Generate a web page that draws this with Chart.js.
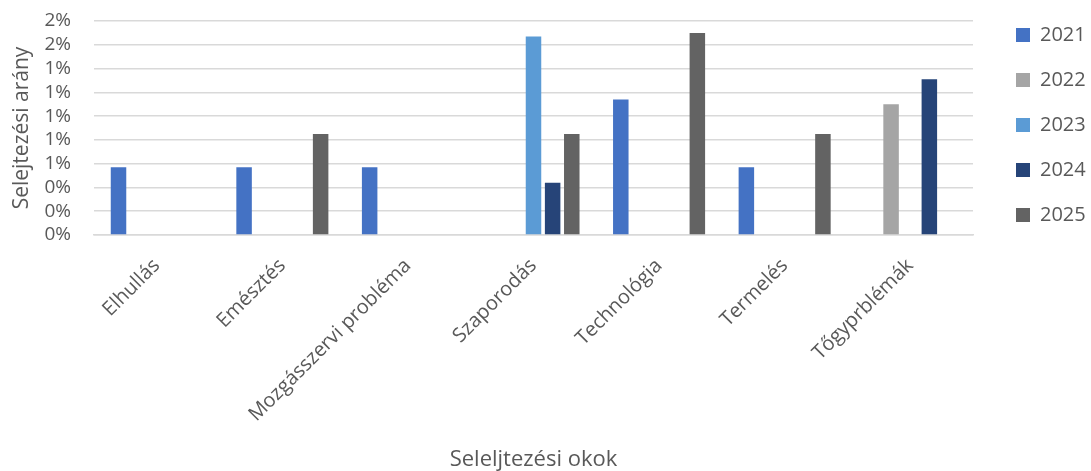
<!DOCTYPE html>
<html>
<head>
<meta charset="utf-8">
<script src="https://cdn.jsdelivr.net/npm/chart.js@4/dist/chart.umd.min.js"></script>
<style>
  html, body { margin: 0; padding: 0; background: #ffffff; }
  #wrap { width: 1091px; height: 471px; position: relative; }
</style>
</head>
<body>
<div id="wrap"><canvas id="c" width="1091" height="471"></canvas></div>
<script>
const categories = ["Elhullás", "Emésztés", "Mozgásszervi probléma", "Szaporodás", "Technológia", "Termelés", "Tőgyprblémák"];
const seriesNames = ["2021", "2022", "2023", "2024", "2025"];
const s2021 = [0.0057, 0.0057, 0.0057, null, 0.0114, 0.0057, null];
const s2022 = [null, null, null, null, null, null, 0.0110];
const s2023 = [null, null, null, 0.0167, null, null, null];
const s2024 = [null, null, null, 0.0044, null, null, 0.0131];
const s2025 = [null, 0.0085, null, 0.0085, 0.0170, 0.0085, null];
const seriesColors = ["#4472C4", "#A5A5A5", "#5B9BD5", "#264478", "#636363"];
const yTitle = "Selejtezési arány";
const xTitle = "Seleljtezési okok";

const allSeries = [s2021, s2022, s2023, s2024, s2025];
const TEXT = "#595959";
const FONT = "'Open Sans', 'DejaVu Sans', sans-serif";

const PLOT_LEFT = 94, PLOT_RIGHT = 973, PLOT_TOP = 21, PLOT_BOTTOM = 235;
const LEGEND_PAD = 25, LEGEND_BOX_X = 1016;

const layoutPlugin = {
  id: 'layoutFix',
  beforeLayout(chart) {
    const lg = chart.legend;
    if (lg && !lg._patched) {
      const f = lg.fit;
      lg.fit = function () { f.call(this); this.width = chart.width - PLOT_RIGHT; };
      lg._patched = true;
    }
  },
  afterLayout(chart) {
    const lg = chart.legend;
    if (lg) {
      const shift = LEGEND_BOX_X - (lg.left + LEGEND_PAD);
      lg.left += shift; lg.right += shift;
    }
    const y = chart.scales.y;
    if (y) { y.top = chart.chartArea.top; }
  }
};

new Chart(document.getElementById('c'), {
  type: 'bar',
  data: {
    labels: categories,
    datasets: seriesNames.map((n, i) => ({
      label: n,
      data: allSeries[i],
      backgroundColor: seriesColors[i],
      borderWidth: 0,
      categoryPercentage: 0.762,
      barPercentage: 0.81
    }))
  },
  plugins: [layoutPlugin],
  options: {
    responsive: false,
    animation: false,
    layout: { padding: 0 },
    plugins: {
      tooltip: { enabled: false },
      legend: {
        position: 'right',
        align: 'start',
        labels: {
          boxWidth: 14,
          boxHeight: 14,
          padding: LEGEND_PAD,
          color: TEXT,
          font: { family: FONT, size: 20 }
        }
      }
    },
    scales: {
      x: {
        grid: { display: false, drawTicks: false },
        border: { display: true, color: '#D9D9D9', width: 1.5 },
        ticks: {
          autoSkip: false,
          maxRotation: 45,
          minRotation: 45,
          padding: 19,
          color: TEXT,
          font: { family: FONT, size: 20 }
        },
        title: {
          display: true,
          text: xTitle,
          color: TEXT,
          font: { family: FONT, size: 22 },
          padding: { top: 4, bottom: -2 }
        },
        afterFit(scale) {
          scale.height = 471 - PLOT_BOTTOM;
          scale.paddingLeft = 0;
          scale.paddingRight = 0;
        }
      },
      y: {
        min: 0,
        max: 0.018,
        grid: { color: '#D9D9D9', lineWidth: 1.5, drawTicks: false },
        border: { display: false },
        ticks: {
          autoSkip: false,
          stepSize: 0.002,
          padding: 23,
          color: TEXT,
          font: { family: FONT, size: 19 },
          callback: (v) => Math.round(v * 100) + '%'
        },
        title: {
          display: true,
          text: yTitle,
          color: TEXT,
          font: { family: FONT, size: 21 },
          padding: { top: 9, bottom: 0 }
        },
        afterFit(scale) {
          scale.width = PLOT_LEFT;
          scale.paddingTop = PLOT_TOP;
          scale.paddingBottom = 0;
        }
      }
    }
  }
});
</script>
</body>
</html>
